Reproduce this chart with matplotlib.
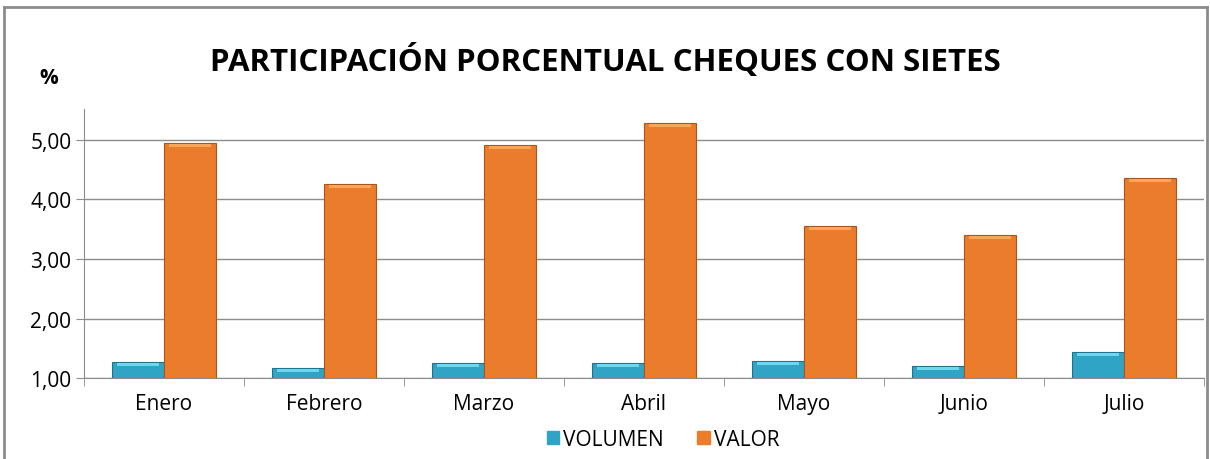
import matplotlib.pyplot as plt
import numpy as np
from matplotlib.lines import Line2D
from matplotlib.patches import Patch

plt.rcParams['font.family'] = ['Open Sans', 'DejaVu Sans']

meses = ['Enero', 'Febrero', 'Marzo', 'Abril', 'Mayo', 'Junio', 'Julio']
volumen = [1.27, 1.17, 1.25, 1.25, 1.29, 1.20, 1.44]
valor = [4.95, 4.26, 4.92, 5.29, 3.55, 3.40, 4.36]

fig = plt.figure(figsize=(12.1, 4.6), dpi=100)
ax = fig.add_axes([0.0694, 0.176, 0.9256, 0.585])

x = np.arange(len(meses))
w = 0.325
base = 1.0
ax.bar(x - w/2, np.array(volumen) - base, w, bottom=base, color='#2fa4c4',
       edgecolor='#1d7390', linewidth=0.8, label='VOLUMEN', zorder=3)
ax.bar(x + w/2, np.array(valor) - base, w, bottom=base, color='#ea7c2b',
       edgecolor='#a9561a', linewidth=0.8, label='VALOR', zorder=3)
# light bevel on the top of each bar
ax.bar(x - w/2, [0.05]*7, w*0.8, bottom=np.array(volumen) - 0.07,
       color='#6fd6ee', linewidth=0, zorder=4)
ax.bar(x + w/2, [0.05]*7, w*0.8, bottom=np.array(valor) - 0.07,
       color='#f9a65a', linewidth=0, zorder=4)

ax.set_xlim(-0.5, len(meses) - 0.5)
ax.set_ylim(1.0, 5.52)
ax.set_yticks([1, 2, 3, 4, 5])
ax.set_yticklabels(['1,00', '2,00', '3,00', '4,00', '5,00'], fontsize=15)
ax.yaxis.grid(True, color='#8c8c8c', linewidth=1.0, zorder=0)
ax.set_xticks(x)
ax.set_xticklabels(meses, fontsize=15)
ax.tick_params(axis='x', length=0, pad=11)
ax.set_xticks(np.arange(-0.5, len(meses)), minor=True)
ax.tick_params(axis='x', which='minor', length=6, color='#8c8c8c')
ax.tick_params(axis='y', length=6, color='#8c8c8c', pad=3)
for s in ['top', 'right']:
    ax.spines[s].set_visible(False)
ax.spines['left'].set_color('#8c8c8c')
ax.spines['bottom'].set_color('#8c8c8c')

fig.text(0.5, 0.868, 'PARTICIPACIÓN PORCENTUAL CHEQUES CON SIETES',
         ha='center', va='center', fontsize=22.5, fontweight='bold')
fig.text(0.04, 0.83, '%', ha='center', va='center', fontsize=15, fontweight='bold')

handles = [Patch(color='#2fa4c4'), Patch(color='#ea7c2b')]
fig.legend(handles, ['VOLUMEN', 'VALOR'], loc='center', bbox_to_anchor=(0.548, 0.043),
           ncol=2, frameon=False, fontsize=15, handlelength=0.6, handleheight=0.6,
           handletextpad=0.2, columnspacing=1.6)

# chart border
fig.add_artist(Line2D([0.0035, 0.0035], [0, 0.983], color='#8c8c8c', linewidth=2))
fig.add_artist(Line2D([0.0035, 0.9975], [0.983, 0.983], color='#8c8c8c', linewidth=2))
fig.add_artist(Line2D([0.9975, 0.9975], [0, 0.983], color='#8c8c8c', linewidth=2))

fig.savefig('out.png', dpi=100)
